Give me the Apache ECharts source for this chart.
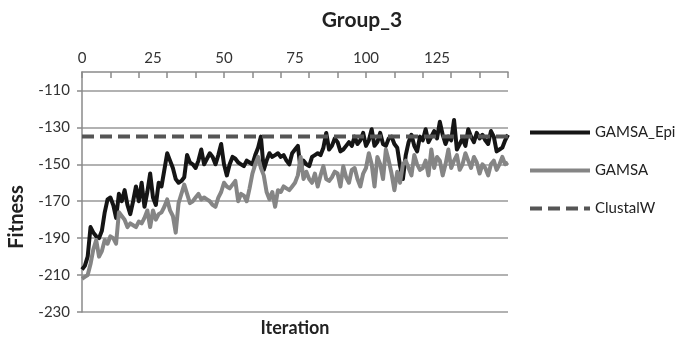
<!DOCTYPE html>
<html>
<head>
<meta charset="utf-8">
<script src="https://cdn.jsdelivr.net/npm/echarts@6/dist/echarts.min.js"></script>
<style>
  html, body { margin: 0; padding: 0; background: #fff; }
  #main { width: 686px; height: 339px; }
</style>
</head>
<body>
<div id="main"></div>
<script>
// iteration numbers on the x axis
var iterations = [];
for (var n = 0; n <= 150; n++) iterations.push(String(n));

var xLabelValues = [0, 25, 50, 75, 100, 125];
var yTickValues = [-230, -210, -190, -170, -150, -130, -110];

var gamsaEpi = [
  -207, -205, -200, -184, -187, -189, -190, -186, -176, -169,
  -168, -172, -179, -166, -170, -164, -172, -177, -170, -162,
  -170, -160, -173, -165, -155, -168, -172, -160, -162, -153,
  -144, -148, -152, -158, -160, -159, -157, -145, -149, -150,
  -152, -148, -142, -150, -147, -144, -146, -150, -145, -139,
  -150, -156, -150, -146, -147, -149, -150, -151, -148, -149,
  -150, -145, -141, -135, -153, -148, -144, -146, -145, -144,
  -146, -145, -148, -150, -144, -142, -140, -153, -148, -150,
  -151, -146, -145, -144, -145, -141, -133, -142, -140, -136,
  -138, -143, -142, -140, -138, -140, -135, -139, -137, -133,
  -140, -137, -131, -140, -138, -133, -139, -140, -136, -135,
  -139, -141, -151, -158, -145, -138, -134, -140, -143, -135,
  -137, -131, -138, -135, -132, -136, -127, -134, -139, -135,
  -137, -126, -142, -139, -136, -140, -131, -135, -138, -133,
  -136, -134, -137, -139, -132, -135, -143, -142, -141, -137,
  -134
];

var gamsa = [
  -212, -211, -210, -204, -196, -191, -200, -197, -191, -193,
  -189, -190, -193, -176, -178, -180, -184, -182, -183, -184,
  -181, -182, -179, -175, -184, -175, -180, -177, -176, -173,
  -169, -175, -178, -187, -171, -166, -161, -166, -171, -170,
  -168, -166, -169, -168, -169, -170, -172, -173, -168, -165,
  -160, -162, -163, -161, -159, -170, -166, -167, -170, -163,
  -155, -150, -146, -152, -156, -165, -169, -165, -173, -164,
  -165, -162, -163, -164, -162, -160, -156, -146, -158, -154,
  -158, -160, -155, -162, -156, -151, -158, -159, -157, -154,
  -155, -162, -151, -157, -160, -153, -152, -158, -162, -155,
  -152, -144, -150, -162, -146, -150, -158, -142, -148, -155,
  -164, -154, -160, -150, -148, -152, -156, -145, -150, -153,
  -152, -148, -156, -142, -152, -146, -148, -156, -150, -142,
  -152, -148, -145, -153, -150, -144, -148, -152, -146, -149,
  -155, -150, -152, -156, -150, -148, -153, -150, -146, -150,
  -149
];

// ClustalW reference score, flat across all iterations
var clustalW = [[0, -135], [150, -135]];

var FONT = 'Lato';

var dom = document.getElementById('main');
var myChart = echarts.init(dom);

var option = {
    animation: false,
    backgroundColor: '#fff',
    title: {
        text: 'Group_3',
        left: 357,
        top: 5,
        textAlign: 'center',
        textStyle: { fontFamily: FONT, fontSize: 21, fontWeight: 'bold', color: '#222' }
    },
    legend: {
        orient: 'vertical',
        left: 528,
        top: 125,
        padding: 0,
        itemWidth: 60,
        itemHeight: 14,
        itemGap: 23,
        itemStyle: { opacity: 0 },
        lineStyle: { width: 4 },
        textStyle: { fontFamily: FONT, fontSize: 15, color: '#222' },
        data: ['GAMSA_Epi', 'GAMSA', 'ClustalW']
    },
    grid: {
        left: 82,
        right: 178,
        top: 72,
        bottom: 27,
        outerBoundsMode: 'none'
    },
    graphic: [
        {
            type: 'text',
            x: 17,
            y: 217,
            rotation: Math.PI / 2,
            style: {
                text: 'Fitness',
                fontFamily: FONT, fontSize: 20, fontWeight: 'bold', fill: '#222',
                align: 'center', verticalAlign: 'middle'
            }
        },
        {
            type: 'text',
            x: 295,
            y: 328,
            style: {
                text: 'Iteration',
                fontFamily: FONT, fontSize: 18, fontWeight: 'bold', fill: '#222',
                align: 'center', verticalAlign: 'middle'
            }
        }
    ],
    xAxis: {
        type: 'category',
        position: 'top',
        boundaryGap: false,
        data: iterations,
        axisLine: { lineStyle: { color: '#8a8a8a', width: 1.5 } },
        axisTick: {
            inside: true,
            length: 6,
            interval: function (index) { return index % 10 === 0; },
            lineStyle: { color: '#8a8a8a', width: 1.5 }
        },
        axisLabel: {
            margin: 6,
            fontFamily: FONT, fontSize: 15, color: '#333',
            interval: function (index) { return xLabelValues.indexOf(index) >= 0; }
        },
        splitLine: { show: false }
    },
    yAxis: {
        type: 'value',
        min: -230,
        max: -100,
        axisLine: { show: true, lineStyle: { color: '#8a8a8a', width: 1.5 } },
        axisTick: {
            show: true,
            length: 5,
            customValues: yTickValues,
            lineStyle: { color: '#8a8a8a', width: 1.5 }
        },
        axisLabel: {
            margin: 12,
            fontFamily: FONT, fontSize: 15, color: '#333',
            customValues: yTickValues
        },
        splitLine: { show: true, lineStyle: { color: '#999', width: 1.5 } }
    },
    series: [
        {
            name: 'GAMSA_Epi',
            type: 'line',
            data: gamsaEpi,
            showSymbol: false,
            symbol: 'none',
            color: '#151515',
            lineStyle: { width: 4, color: '#151515', join: 'round' }
        },
        {
            name: 'GAMSA',
            type: 'line',
            data: gamsa,
            showSymbol: false,
            symbol: 'none',
            color: '#858585',
            lineStyle: { width: 4, color: '#858585', join: 'round' }
        },
        {
            name: 'ClustalW',
            type: 'line',
            data: clustalW,
            showSymbol: false,
            symbol: 'none',
            color: '#555',
            lineStyle: { width: 4, color: '#555', type: [12, 6] }
        }
    ]
};

myChart.setOption(option);
</script>
</body>
</html>
